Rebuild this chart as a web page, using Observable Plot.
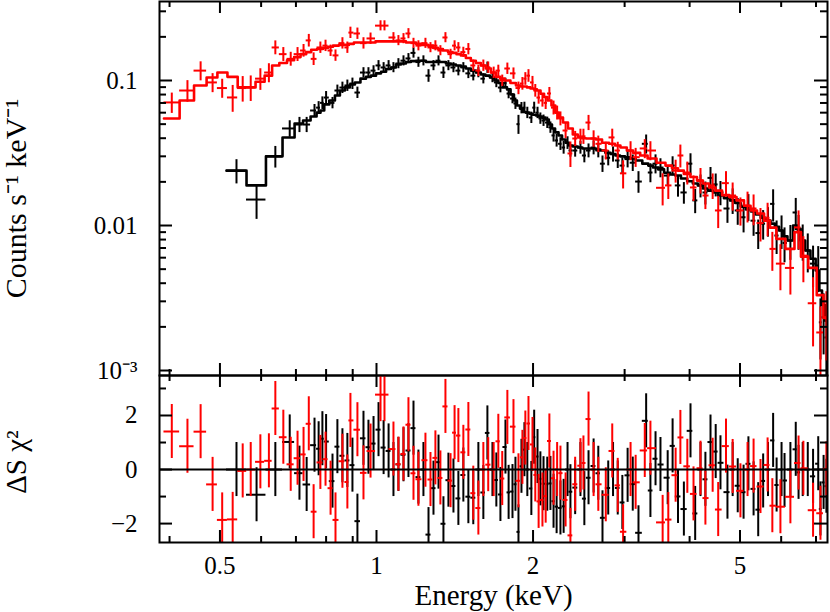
<!DOCTYPE html>
<html><head><meta charset="utf-8">
<script src="https://cdn.jsdelivr.net/npm/d3@7"></script>
<script src="https://cdn.jsdelivr.net/npm/@observablehq/plot@0.6"></script>
<style>
html,body{margin:0;padding:0;background:#fff;}
#chart{position:relative;width:830px;height:612px;overflow:hidden;}
#chart svg{position:absolute;left:0;overflow:visible;}
</style></head><body><div id="chart"></div>
<script>
// ---------- Dataset 1 (black) ----------
const blackE = [
0.538,0.588,0.639,0.681,0.711,0.734,0.760,0.774,0.787,0.800,
0.823,0.841,0.860,0.879,0.899,0.919,0.944,0.965,0.987,1.009,
1.032,1.055,1.078,1.102,1.127,1.152,1.178,1.204,1.231,1.259,
1.287,1.316,1.345,1.375,1.406,1.437,1.469,1.502,1.535,1.570,
1.605,1.634,1.671,1.700,1.731,1.770,1.795,1.826,1.850,1.875,
1.900,1.925,1.950,1.985,2.010,2.040,2.066,2.095,2.130,2.160,
2.190,2.220,2.258,2.290,2.330,2.360,2.410,2.467,2.510,2.557,
2.615,2.670,2.720,2.790,2.850,2.910,2.970,3.040,3.110,3.190,
3.300,3.363,3.440,3.516,3.630,3.710,3.800,3.900,4.016,4.100,
4.198,4.290,4.388,4.490,4.586,4.730,4.840,4.950,5.080,5.190,
5.310,5.420,5.540,5.660,5.790,5.880,6.010,6.090,6.250,6.400,
6.480,6.600,6.750,6.910,7.070,7.140,7.240,7.330];
const blackRate = [
0.0239,0.0151,0.0300,0.0467,0.0497,0.0497,0.0621,0.0650,0.0701,0.0763,
0.0701,0.0853,0.0894,0.0924,0.0953,0.0826,0.1135,0.1135,0.117,0.127,
0.123,0.127,0.123,0.131,0.137,0.142,0.155,0.134,0.137,0.108,
0.127,0.137,0.1135,0.127,0.123,0.117,0.123,0.112,0.108,0.1135,
0.103,0.123,0.105,0.097,0.0894,0.096,0.0813,0.0751,0.0694,0.050,
0.0647,0.065,0.060,0.0555,0.065,0.060,0.0548,0.053,0.0513,0.0475,
0.0418,0.0386,0.0366,0.0345,0.0372,0.0329,0.0329,0.0345,0.0304,0.0329,
0.0345,0.0329,0.0267,0.0293,0.0311,0.0281,0.0259,0.0287,0.0271,0.0201,
0.0366,0.0232,0.0267,0.0251,0.0221,0.0259,0.0189,0.0169,0.0267,0.0149,
0.0189,0.0169,0.0213,0.0192,0.0169,0.0131,0.0149,0.0127,0.0114,0.0135,
0.0108,0.00887,0.0103,0.0108,0.0141,0.00853,0.00924,0.00758,0.00788,0.0123,
0.00924,0.00788,0.00673,0.00546,0.0053,0.00215,0.00233,0.00169];
const blackModel = [
0.0239,0.0189,0.0300,0.0405,0.0505,0.0530,0.0565,0.0600,0.0621,0.0684,
0.0728,0.0788,0.0853,0.0896,0.0939,0.0968,0.103,0.106,0.108,0.112,
0.115,0.120,0.123,0.129,0.131,0.134,0.136,0.137,0.137,0.134,
0.134,0.134,0.134,0.131,0.129,0.127,0.125,0.121,0.117,0.1135,
0.110,0.108,0.105,0.100,0.096,0.0896,0.0868,0.080,0.0728,0.0673,
0.064,0.0607,0.060,0.059,0.058,0.0574,0.0565,0.0555,0.0538,0.0497,
0.0467,0.0439,0.0418,0.0392,0.0372,0.0356,0.0351,0.0345,0.0340,0.0340,
0.0340,0.0334,0.0329,0.0317,0.0311,0.0304,0.0300,0.0295,0.0290,0.0281,
0.0267,0.0259,0.0251,0.0244,0.0231,0.0225,0.0221,0.0211,0.0202,0.0195,
0.0189,0.0180,0.0174,0.0169,0.0161,0.0154,0.0149,0.0143,0.0135,0.0129,
0.0125,0.0119,0.0113,0.0108,0.0103,0.0098,0.00924,0.00841,0.00788,0.0100,
0.0095,0.00788,0.00673,0.0059,0.0049,0.00356,0.00283,0.00221];
const blackRelErr = [ // percent
19,27,17,13,12,12,10,10,10,10,
9,9,9,9,9,9,8,8,8,8,
8,8,8,8,8,8,8,8,8,10,
8,8,9,8,8,8,8,8,8,8,
8,9,8,8,8,8,8,8,9,15,
9,9,9,9,9,9,9,9,9,9,
10,10,10,10,10,10,10,10,11,11,
11,11,13,12,12,12,13,13,13,17,
15,15,15,15,15,15,17,17,17,19,
18,18,18,18,19,21,20,21,22,21,
22,23,23,23,25,26,26,27,27,25,
27,28,30,32,35,45,45,50];

// ---------- Dataset 2 (red) ----------
const redE = [
0.404,0.433,0.459,0.484,0.505,0.529,0.553,0.573,0.598,0.621,
0.639,0.662,0.684,0.705,0.724,0.741,0.757,0.780,0.798,0.816,
0.834,0.860,0.879,0.891,0.919,0.944,0.974,1.018,1.036,1.078,
1.102,1.127,1.152,1.178,1.204,1.242,1.270,1.298,1.327,1.357,
1.388,1.413,1.437,1.469,1.502,1.535,1.570,1.605,1.640,1.680,
1.715,1.745,1.785,1.834,1.875,1.908,1.933,1.960,1.995,2.020,
2.050,2.085,2.115,2.150,2.190,2.225,2.258,2.310,2.360,2.410,
2.467,2.500,2.557,2.615,2.670,2.760,2.840,2.910,2.980,3.080,
3.150,3.280,3.363,3.550,3.640,3.760,3.840,3.960,4.070,4.198,
4.290,4.430,4.540,4.700,4.840,5.010,5.170,5.310,5.475,5.650,
5.770,5.980,6.250,6.480,6.620,6.910,7.140,7.330];
const redRate = [
0.0706,0.0853,0.117,0.097,0.0887,0.0764,0.0887,0.0896,0.103,0.1135,
0.169,0.152,0.141,0.152,0.161,0.189,0.141,0.169,0.174,0.161,
0.149,0.181,0.169,0.214,0.211,0.181,0.195,0.239,0.239,0.198,
0.189,0.195,0.211,0.181,0.174,0.181,0.169,0.174,0.161,0.198,
0.152,0.174,0.169,0.157,0.165,0.127,0.117,0.127,0.123,0.1135,
0.117,0.100,0.121,0.112,0.0887,0.0953,0.103,0.108,0.097,0.0853,
0.0763,0.0728,0.0701,0.0814,0.065,0.060,0.0547,0.0452,0.0314,0.0398,
0.0412,0.0412,0.0513,0.0398,0.0366,0.0329,0.0405,0.0329,0.0229,0.0329,
0.0296,0.034,0.0329,0.0182,0.0189,0.0239,0.0304,0.0232,0.0183,0.0206,
0.0161,0.0189,0.0127,0.0196,0.0161,0.0127,0.0137,0.0131,0.0104,0.0113,
0.0069,0.00546,0.0051,0.0097,0.0062,0.00291,0.00183,0.00233];
const redModel = [
0.0547,0.0728,0.0924,0.105,0.1135,0.106,0.0896,0.0896,0.098,0.108,
0.127,0.132,0.138,0.145,0.152,0.157,0.163,0.165,0.168,0.171,
0.174,0.176,0.176,0.179,0.183,0.183,0.183,0.186,0.186,0.186,
0.186,0.186,0.183,0.183,0.179,0.176,0.174,0.168,0.165,0.161,
0.157,0.155,0.152,0.149,0.143,0.137,0.132,0.127,0.121,0.1135,
0.106,0.103,0.100,0.096,0.0924,0.091,0.091,0.0896,0.088,0.087,
0.0853,0.081,0.077,0.0728,0.0673,0.060,0.0555,0.0513,0.0467,0.0424,
0.0405,0.040,0.0398,0.0398,0.0392,0.0372,0.0366,0.0356,0.0345,0.0329,
0.0317,0.0304,0.029,0.0271,0.0259,0.0248,0.0239,0.0227,0.0216,0.0204,
0.0195,0.0183,0.0174,0.0162,0.0157,0.0149,0.0137,0.0127,0.0121,0.0108,
0.00967,0.00809,0.0069,0.0090,0.0061,0.0051,0.00331,0.0023];
const redRelErr = [ // percent
16,17,15,15,15,21,20,20,17,15,
11,11,11,11,10,10,10,9,9,9,
9,9,9,9,9,9,9,8,8,8,
8,8,8,8,8,8,8,8,8,8,
8,8,8,8,9,9,9,9,9,9,
9,9,9,9,10,10,10,10,10,10,
10,10,10,10,11,11,11,12,20,12,
12,12,12,13,13,14,14,14,22,15,
15,15,15,25,20,18,18,18,20,20,
20,20,25,20,22,22,24,24,26,26,
30,35,35,30,35,50,50,50];

// ---------- axis ticks ----------
const xMajor = [0.5, 1, 2, 5];
const xMinor = [0.4, 0.6, 0.7, 0.8, 0.9, 3, 4, 6, 7];
const yMajor = [0.001, 0.01, 0.1];
const yMinor = [0.002,0.003,0.004,0.005,0.006,0.007,0.008,0.009,
                0.02,0.03,0.04,0.05,0.06,0.07,0.08,0.09,0.2,0.3];
const yLabels = ["10\u207B\u00B3", "0.01", "0.1"];
const rMajor = [-2, 0, 2];
const rMinor = [-1, 1, 3];
const rLabels = ["\u22122", "0", "2"];
const xLabels = ["0.5", "1", "2", "5"];

// ---------- build tables ----------
function build(E, rate, model, rel) {
  const n = E.length;
  return E.map((e, i) => {
    const lo = i > 0 ? Math.sqrt(E[i-1]*e) : e*e/Math.sqrt(e*E[1]);
    const hi = i < n-1 ? Math.sqrt(e*E[i+1]) : e*e/Math.sqrt(E[n-2]*e);
    const err = rate[i]*rel[i]/100;
    return {e, lo, hi, rate: rate[i], ylo: rate[i]-err, yhi: rate[i]+err,
            model: model[i], resid: (rate[i]-model[i])/err};
  });
}
function steps(rows) {
  const s = rows.map(d => ({x: d.lo, y: d.model}));
  s.push({x: rows[rows.length-1].hi, y: rows[rows.length-1].model});
  return s;
}
const black = build(blackE, blackRate, blackModel, blackRelErr);
const red = build(redE, redRate, redModel, redRelErr);

const FONT = "'Liberation Serif','Times New Roman',Times,serif";
const W = 830, ML = 159, MR = 3;
const PW = W - ML - MR;             // plot-area width
const xDomain = [0.3826, 7.366];
const topPH = 374;                  // top panel plot-area height
const botPH = 167;                  // bottom panel plot-area height
const LW = 2;

function tickMarks(vx, len, ph) {
  return [
    Plot.ruleX(vx, {insetTop: ph - len, strokeWidth: LW}),
    Plot.ruleX(vx, {insetBottom: ph - len, strokeWidth: LW})
  ];
}
function yTickMarks(vy, len) {
  return [
    Plot.ruleY(vy, {insetRight: PW - len, strokeWidth: LW}),
    Plot.ruleY(vy, {insetLeft: PW - len, strokeWidth: LW})
  ];
}
function dataMarks(rows, color) {
  return [
    Plot.ruleY(rows, {y: "rate", x1: "lo", x2: "hi", stroke: color, strokeWidth: 2, clip: true}),
    Plot.ruleX(rows, {x: "e", y1: "ylo", y2: "yhi", stroke: color, strokeWidth: 2, clip: true}),
    Plot.line(steps(rows), {x: "x", y: "y", curve: "step-after", stroke: color, strokeWidth: 2.6, clip: true})
  ];
}
function residMarks(rows, color) {
  return [
    Plot.ruleY(rows, {y: "resid", x1: "lo", x2: "hi", stroke: color, strokeWidth: 2, clip: true}),
    Plot.ruleX(rows, {x: "e", y1: d => d.resid - 1, y2: d => d.resid + 1, stroke: color, strokeWidth: 2, clip: true})
  ];
}

const topPlot = Plot.plot({
  width: W, height: topPH + 2, marginLeft: ML, marginRight: MR, marginTop: 1, marginBottom: 1,
  x: {type: "log", domain: xDomain, axis: null},
  y: {type: "log", domain: [0.000924, 0.3506], axis: null},
  style: {fontFamily: FONT, fontSize: "25px", background: "transparent", color: "#000"},
  marks: [
    ...dataMarks(black, "#000"),
    ...dataMarks(red, "#ff0000"),
    ...tickMarks(xMajor, 12, topPH),
    ...tickMarks(xMinor, 6, topPH),
    ...yTickMarks(yMajor, 13),
    ...yTickMarks(yMinor, 7),
    Plot.axisY({anchor: "left", ticks: yMajor, tickSize: 0, tickPadding: 22,
      tickFormat: d => yLabels[yMajor.indexOf(d)], label: null, fontSize: 25}),
    Plot.text(["Counts s\u207B\u00B9 keV\u207B\u00B9"], {frameAnchor: "left", textAnchor: "middle",
      lineAnchor: "middle", rotate: -90, dx: -143, dy: 10, fontSize: 30, text: d => d}),
    Plot.frame({strokeWidth: LW})
  ]
});

const botPlot = Plot.plot({
  width: W, height: botPH + 71, marginLeft: ML, marginRight: MR, marginTop: 1, marginBottom: 70,
  x: {type: "log", domain: xDomain, axis: null},
  y: {domain: [-2.70, 3.48], axis: null},
  style: {fontFamily: FONT, fontSize: "25px", background: "transparent", color: "#000"},
  marks: [
    ...residMarks(black, "#000"),
    ...residMarks(red, "#ff0000"),
    Plot.ruleY([0], {strokeWidth: LW}),
    ...tickMarks(xMajor, 12, botPH),
    ...tickMarks(xMinor, 6, botPH),
    ...yTickMarks(rMajor, 13),
    ...yTickMarks(rMinor, 7),
    Plot.axisY({anchor: "left", ticks: rMajor, tickSize: 0, tickPadding: 22,
      tickFormat: d => rLabels[rMajor.indexOf(d)], label: null, fontSize: 25}),
    Plot.axisX({anchor: "bottom", ticks: xMajor, tickSize: 0, tickPadding: 14,
      tickFormat: d => xLabels[xMajor.indexOf(d)], label: null, fontSize: 25}),
    Plot.text(["\u0394S \u03C7\u00B2"], {frameAnchor: "left", textAnchor: "middle", lineAnchor: "middle",
      rotate: -90, dx: -143, dy: 3, fontSize: 29, text: d => d}),
    Plot.text(["Energy (keV)"], {frameAnchor: "bottom", lineAnchor: "middle", dy: 53, fontSize: 29, text: d => d}),
    Plot.frame({strokeWidth: LW})
  ]
});

const chart = document.getElementById("chart");
topPlot.style.top = "0px";
botPlot.style.top = "374px";
chart.appendChild(topPlot);
chart.appendChild(botPlot);
</script></body></html>
